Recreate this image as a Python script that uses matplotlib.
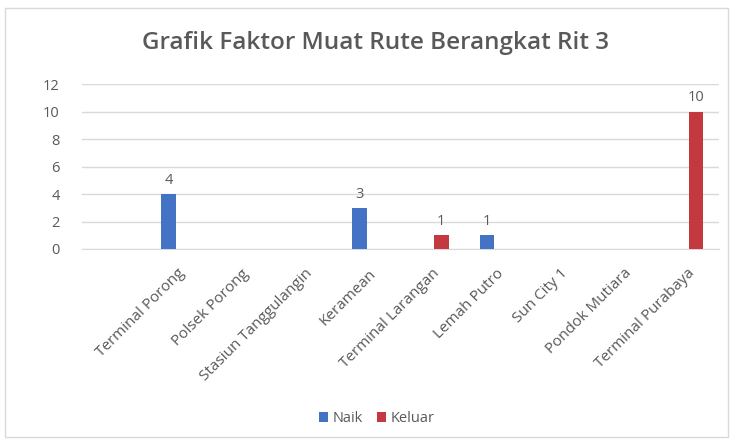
import numpy as np
import matplotlib.pyplot as plt
import matplotlib.transforms as mtransforms
from matplotlib.patches import Rectangle

# Data (first category slot is blank in the original)
categories = ["", "Terminal Porong", "Polsek Porong", "Stasiun Tanggulangin", "Keramean",
              "Terminal Larangan", "Lemah Putro", "Sun City 1", "Pondok Mutiara",
              "Terminal Purabaya"]
naik = [0, 4, 0, 0, 3, 0, 1, 0, 0, 0]
keluar = [0, 0, 0, 0, 0, 1, 0, 0, 0, 10]
yticks = [0, 2, 4, 6, 8, 10, 12]

blue = "#4472C4"
red = "#C4383F"
gray = "#595959"

plt.rcParams["font.family"] = ["Open Sans", "DejaVu Sans"]

fig = plt.figure(figsize=(7.33, 4.43), dpi=100)
ax = fig.add_axes([0.1119, 0.438, 0.869, 0.372])

x = np.arange(len(categories))
w = 0.23
b1 = ax.bar(x - 0.14, naik, w, color=blue, label="Naik", zorder=3)
b2 = ax.bar(x + 0.14, keluar, w, color=red, label="Keluar", zorder=3)

# value labels only where there is a bar
for bars, vals in [(b1, naik), (b2, keluar)]:
    for rect, v in zip(bars, vals):
        if v:
            ax.text(rect.get_x() + rect.get_width() / 2, v + 0.45, str(v),
                    ha="center", va="bottom", fontsize=10.5, color=gray)

ax.set_xlim(-0.5, len(categories) - 0.5)
ax.set_ylim(0, 12)
ax.set_yticks(yticks)
ax.set_xticks(x)
ax.set_xticklabels([])

# rotated category labels, end of text sits near the category centre
shift = mtransforms.ScaledTranslation(0, -17 / 100, fig.dpi_scale_trans)
for xi, name in zip(x, categories):
    ax.text(xi, 0, name, rotation=45, ha="right", va="top", rotation_mode="anchor",
            fontsize=11, color=gray, transform=ax.get_xaxis_transform() + shift)

ax.tick_params(axis="y", labelsize=10.5, labelcolor=gray, length=0, pad=16)
ax.tick_params(axis="x", length=0)
ax.grid(axis="y", color="#D9D9D9", linewidth=1, zorder=0)
for s in ["top", "right", "left"]:
    ax.spines[s].set_visible(False)
ax.spines["bottom"].set_color("#D9D9D9")

fig.text(0.512, 0.903, "Grafik Faktor Muat Rute Berangkat Rit 3", ha="center", va="center",
         fontsize=17.5, fontweight="semibold", color=gray)

fig.legend(handles=[b1, b2], loc="center", bbox_to_anchor=(0.514, 0.055), ncol=2,
           frameon=False, fontsize=10.5, labelcolor=gray, handlelength=0.6,
           handleheight=0.6, handletextpad=0.3, columnspacing=1.0)

# light chart border
fig.patches.append(Rectangle((0.007, 0.014), 0.986, 0.968, transform=fig.transFigure,
                             fill=False, edgecolor="#D9D9D9", linewidth=1))

plt.savefig("out.png", dpi=100)
